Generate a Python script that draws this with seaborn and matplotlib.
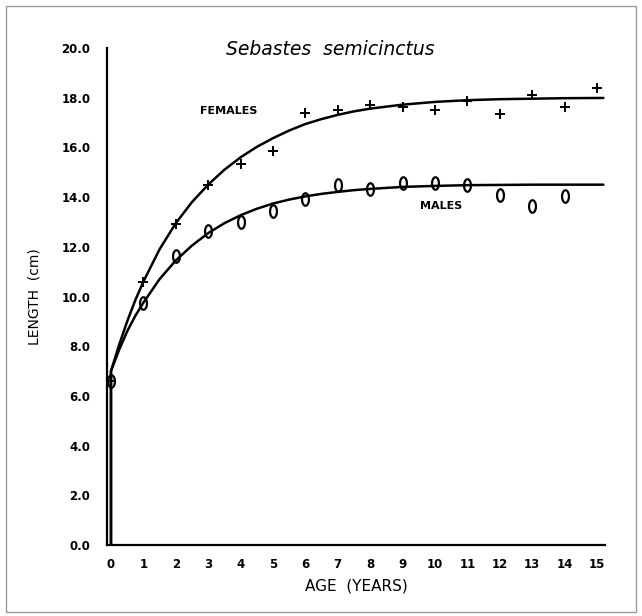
import numpy as np
import pandas as pd
import matplotlib
matplotlib.use("Agg")
import matplotlib.pyplot as plt
from matplotlib.path import Path
from matplotlib.patches import Rectangle
import seaborn as sns

# ---- data ----
ages_f = [0, 1, 2, 3, 4, 5, 6, 7, 8, 9, 10, 11, 12, 13, 14, 15]
len_f = [6.6, 10.6, 12.9, 14.5, 15.34, 15.85, 17.39, 17.5, 17.71, 17.64, 17.5, 17.88, 17.33, 18.12, 17.61, 18.39]

ages_m = [0, 1, 2, 3, 4, 5, 6, 7, 8, 9, 10, 11, 12, 13, 14]
len_m = [6.6, 9.74, 11.62, 12.63, 13.0, 13.45, 13.93, 14.48, 14.34, 14.55, 14.55, 14.5, 14.07, 13.65, 14.04]

curve_age = [0, 0, 0.25, 0.5, 0.75, 1, 1.5, 2, 2.5, 3, 3.5, 4, 4.5, 5, 5.5, 6, 6.5, 7, 7.5, 8,
             9, 10, 11, 12, 13, 14, 15.2]
curve_f = [0.0, 7.0, 8.05, 9.0, 9.85, 10.6, 11.9, 12.95, 13.8, 14.5, 15.1, 15.6, 16.02, 16.37, 16.68,
           16.94, 17.14, 17.31, 17.45, 17.56, 17.72, 17.83, 17.9, 17.94, 17.96, 17.98, 17.99]
curve_m = [0.0, 7.0, 7.85, 8.6, 9.22, 9.75, 10.7, 11.45, 12.05, 12.55, 12.95, 13.27, 13.53, 13.74, 13.9,
           14.03, 14.13, 14.21, 14.28, 14.33, 14.41, 14.45, 14.48, 14.49, 14.5, 14.5, 14.5]

x_ticks = list(range(0, 16))
y_ticks = [0, 2, 4, 6, 8, 10, 12, 14, 16, 18, 20]
y_tick_labels = ["0.0", "2.0", "4.0", "6.0", "8.0", "10.0", "12.0", "14.0", "16.0", "18.0", "20.0"]

title_text = "Sebastes  semicinctus"
label_f = "FEMALES"
label_m = "MALES"

# ---- figure ----
sns.set_style("white")
plt.rcParams["font.family"] = ["DejaVu Sans"]
for k in ["text.color", "axes.labelcolor", "xtick.color", "ytick.color", "axes.edgecolor"]:
    plt.rcParams[k] = "black"

W, H = 642, 616
fig = plt.figure(figsize=(W / 100, H / 100), dpi=100)
left, right, top, bottom = 107, 605, 48, 545
ax = fig.add_axes([left / W, 1 - bottom / H, (right - left) / W, (bottom - top) / H])

# frame around figure
fig.patches.append(Rectangle((6 / W, 4 / H), (636 - 6) / W, (610 - 4) / H,
                             transform=fig.transFigure, fill=False,
                             edgecolor="#9a9a9a", lw=1.0))

df_cf = pd.DataFrame({"age": curve_age, "len": curve_f})
df_cm = pd.DataFrame({"age": curve_age, "len": curve_m})
sns.lineplot(data=df_cf, x="age", y="len", estimator=None, sort=False,
             color="black", lw=1.8, ax=ax)
sns.lineplot(data=df_cm, x="age", y="len", estimator=None, sort=False,
             color="black", lw=1.8, ax=ax)

# markers
theta = np.linspace(0, 2 * np.pi, 60)
ell = Path(np.column_stack([0.55 * np.cos(theta), np.sin(theta)]), closed=True)

df_f = pd.DataFrame({"age": ages_f, "len": len_f})
df_m = pd.DataFrame({"age": ages_m, "len": len_m})
sns.lineplot(data=df_f, x="age", y="len", estimator=None, linestyle="",
             marker="+", markersize=7.5, markeredgewidth=1.4,
             markeredgecolor="black", color="black", ax=ax)
sns.lineplot(data=df_m, x="age", y="len", estimator=None, linestyle="",
             marker=ell, markersize=9, markeredgewidth=1.6,
             markerfacecolor="none", markeredgecolor="black", color="black", ax=ax)

ax.set_xlim(-0.123, 15.25)
ax.set_ylim(0, 20)
sns.despine(ax=ax)
for s in ["left", "bottom"]:
    ax.spines[s].set_linewidth(1.6)
    ax.spines[s].set_color("black")

ax.set_xticks(x_ticks)
ax.set_xticklabels([str(t) for t in x_ticks], fontsize=8.5, fontweight="bold")
ax.set_yticks(y_ticks)
ax.set_yticklabels(y_tick_labels, fontsize=8.5, fontweight="bold")
ax.tick_params(axis="both", direction="inout", length=8, width=1.3, color="black")
ax.tick_params(axis="x", pad=5)
ax.tick_params(axis="y", pad=8)

ax.set_xlabel("AGE  (YEARS)", fontsize=11, labelpad=6)
ax.set_ylabel("LENGTH  (cm)", fontsize=10, labelpad=14)

ax.text(6.76, 19.92, title_text, style="italic", fontsize=13.5, ha="center", va="center")
ax.text(3.63, 17.46, label_f, fontsize=8, fontweight="bold", ha="center", va="center")
ax.text(10.18, 13.65, label_m, fontsize=8, fontweight="bold", ha="center", va="center")

ax.set_facecolor("white")
fig.savefig("out.png", dpi=100, facecolor="white")
